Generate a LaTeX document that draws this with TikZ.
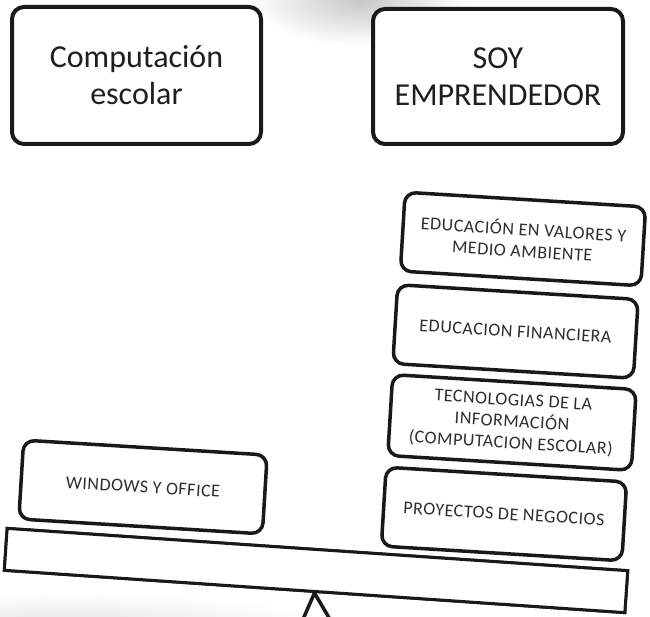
\documentclass[tikz,border=0pt]{standalone}
\usepackage{fontspec}
\setmainfont{Carlito}
\newfontfamily\capsfont[LetterSpace=3]{Carlito}
\usetikzlibrary{shadings}
\tikzset{
  topbox/.style={
    draw=black!90, line width=4pt, rounded corners=12pt, fill=white,
    align=center, inner sep=0pt, text=black!88,
    font=\fontsize{32}{37}\selectfont},
  stackbox/.style={
    draw=black!90, line width=3.5pt, rounded corners=11pt, fill=white,
    align=center, inner sep=0pt, text=black!82,
    minimum width=241pt, minimum height=79pt, rotate=-3.5,
    font=\capsfont\fontsize{18}{21.5}\selectfont},
  beambox/.style={
    draw=black!90, line width=3pt, fill=white, inner sep=0pt,
    minimum width=622pt, minimum height=42pt, rotate=-3.9}
}
\begin{document}
\begin{tikzpicture}[x=1pt, y=-1pt]

    % Frame of the picture
    \useasboundingbox (0,0) rectangle (650,617);
    \clip (0,0) rectangle (650,617);

    % Shadows: soft grey at top and bottom left
    \shade[inner color=black!22, outer color=white] (360,0) ellipse (110 and 45);
    \shade[inner color=black!10, outer color=white] (70,625) ellipse (260 and 32);

    % Titles
    \node[topbox, minimum width=249pt, minimum height=137pt] (comp) at (136.5,75.5)
        {Computación\\escolar};
    \node[topbox, minimum width=250pt, minimum height=135pt] (soy) at (498,76.5)
        {SOY\\EMPRENDEDOR};

    % Fulcrum
    \coordinate (footl) at (294,640);
    \coordinate (footr) at (342,640);
    \node[beambox] (beam) at (316,570.5) {};
    \draw[line width=3.5pt, black!90, line join=miter] (footl) -- (beam.south) -- (footr);

    % Beam
    \node[beambox] at (beam) {};

    % Left load
    \node[stackbox, minimum width=244pt] (win) at (143,487) {WINDOWS Y OFFICE};

    % Right load: stack of boxes
    \node[stackbox] (valores) at (523,239) {EDUCACIÓN EN VALORES Y\\MEDIO AMBIENTE};
    \node[stackbox] (finanzas) at (515.5,331.5) {EDUCACION FINANCIERA};
    \node[stackbox, minimum width=244pt, minimum height=81pt] (tics) at (512,422.5)
        {TECNOLOGIAS DE LA\\INFORMACIÓN\\(COMPUTACION ESCOLAR)};
    \node[stackbox] (negocios) at (504,514) {PROYECTOS DE NEGOCIOS};

\end{tikzpicture}
\end{document}
